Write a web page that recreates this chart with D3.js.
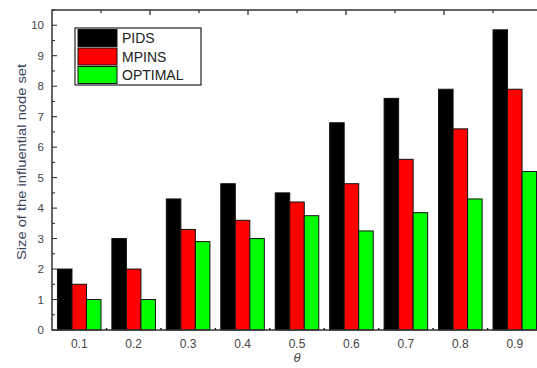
<!DOCTYPE html>
<html>
<head>
<meta charset="utf-8">
<script src="https://cdn.jsdelivr.net/npm/d3@7"></script>
<style>
body { margin: 0; background: #fff; }
svg { display: block; font-family: "Liberation Sans", Arial, sans-serif; }
.tick text { fill: #444; }
</style>
</head>
<body>
<svg width="537" height="368"></svg>
<script>
var thetas = ['0.1', '0.2', '0.3', '0.4', '0.5', '0.6', '0.7', '0.8', '0.9'];
var seriesNames = ['PIDS', 'MPINS', 'OPTIMAL'];
var pids = [2, 3, 4.3, 4.8, 4.5, 6.8, 7.6, 7.9, 9.85];
var mpins = [1.5, 2, 3.3, 3.6, 4.2, 4.8, 5.6, 6.6, 7.9];
var optimal = [1, 1, 2.9, 3, 3.75, 3.25, 3.85, 4.3, 5.2];
var yTicks = [0, 1, 2, 3, 4, 5, 6, 7, 8, 9, 10];
var colors = ['#000000', '#ff0000', '#00ff00'];

var values = [pids, mpins, optimal];
var data = thetas.map(function (t, i) {
  return { theta: t, vals: values.map(function (v) { return v[i]; }) };
});

var svg = d3.select('svg');
var plotLeft = 52, plotRight = 542, plotTop = 10, plotBottom = 330;

var x0 = d3.scaleBand().domain(thetas).range([plotLeft, plotRight])
  .paddingInner(0.2).paddingOuter(0.1);
var x1 = d3.scaleBand().domain(d3.range(3)).range([0, x0.bandwidth()]);
var y = d3.scaleLinear().domain([0, 10.5]).range([plotBottom, plotTop]);
var xTop = d3.scaleLinear().domain([0, 10]).range([plotLeft, plotRight]);

// bars
var groups = svg.append('g').selectAll('g')
  .data(data).enter().append('g')
  .attr('transform', function (d) { return 'translate(' + x0(d.theta) + ',0)'; });

groups.selectAll('rect')
  .data(function (d) { return d.vals; })
  .enter().append('rect')
  .attr('x', function (d, i) { return x1(i); })
  .attr('y', function (d) { return y(d); })
  .attr('width', x1.bandwidth())
  .attr('height', function (d) { return y(0) - y(d); })
  .attr('fill', function (d, i) { return colors[i]; })
  .attr('stroke', '#111')
  .attr('stroke-width', 1);

// y axis: labels, major ticks inward, minor halves
var yAxis = svg.append('g').attr('transform', 'translate(' + plotLeft + ',0)')
  .call(d3.axisLeft(y).tickValues(yTicks).tickSize(0).tickPadding(8).tickFormat(d3.format('d')));
yAxis.select('.domain').remove();
yAxis.selectAll('text').style('font-size', '11.5px');

var halfTicks = d3.range(0, 10.6, 0.5);
svg.append('g').selectAll('line')
  .data(halfTicks).enter().append('line')
  .attr('x1', plotLeft).attr('x2', function (d) { return plotLeft + (d % 1 === 0 ? 5 : 3); })
  .attr('y1', function (d) { return y(d); })
  .attr('y2', function (d) { return y(d); })
  .attr('stroke', '#222').attr('stroke-width', 1);

// x axis labels
var xAxis = svg.append('g').attr('transform', 'translate(0,' + plotBottom + ')')
  .call(d3.axisBottom(x0).tickSize(0).tickPadding(9));
xAxis.select('.domain').remove();
xAxis.selectAll('text').style('font-size', '12px');

// ticks between groups on bottom
var step = x0.step();
svg.append('g').selectAll('line')
  .data(d3.range(1, thetas.length)).enter().append('line')
  .attr('x1', function (k) { return plotLeft + k * step; })
  .attr('x2', function (k) { return plotLeft + k * step; })
  .attr('y1', plotBottom).attr('y2', plotBottom - 2)
  .attr('stroke', '#222').attr('stroke-width', 1.5);

// top ticks
svg.append('g').selectAll('line')
  .data(d3.range(1, 10)).enter().append('line')
  .attr('x1', function (d) { return xTop(d); })
  .attr('x2', function (d) { return xTop(d); })
  .attr('y1', plotTop).attr('y2', function (d) { return plotTop + (d % 2 === 0 ? 5 : 3); })
  .attr('stroke', '#222').attr('stroke-width', 1.2);

// frame
svg.append('rect')
  .attr('x', plotLeft).attr('y', plotTop)
  .attr('width', plotRight - plotLeft).attr('height', plotBottom - plotTop)
  .attr('fill', 'none').attr('stroke', '#333').attr('stroke-width', 1.5);

// axis titles
svg.append('text')
  .attr('transform', 'translate(26,162) rotate(-90)')
  .attr('text-anchor', 'middle')
  .attr('textLength', 196).attr('lengthAdjust', 'spacingAndGlyphs')
  .style('font-size', '13.5px').style('fill', '#3a4560')
  .text('Size of the influential node set');

svg.append('text')
  .attr('x', (plotLeft + plotRight) / 2).attr('y', 362)
  .attr('text-anchor', 'middle')
  .style('font-size', '13px').style('font-style', 'italic').style('fill', '#444')
  .text('θ');

// legend
var lg = svg.append('g').attr('transform', 'translate(75,28)');
lg.append('rect').attr('width', 126).attr('height', 57)
  .attr('fill', '#fff').attr('stroke', '#222').attr('stroke-width', 1.2);
var rows = lg.selectAll('g.row').data(seriesNames).enter().append('g')
  .attr('class', 'row')
  .attr('transform', function (d, i) { return 'translate(3,' + (1.5 + i * 18.5) + ')'; });
rows.append('rect').attr('width', 39).attr('height', 17)
  .attr('fill', function (d, i) { return colors[i]; })
  .attr('stroke', '#111').attr('stroke-width', 1);
rows.append('text').attr('x', 44).attr('y', 13.5)
  .style('font-size', '14px').style('fill', '#222')
  .text(function (d) { return d; });
</script>
</body>
</html>
